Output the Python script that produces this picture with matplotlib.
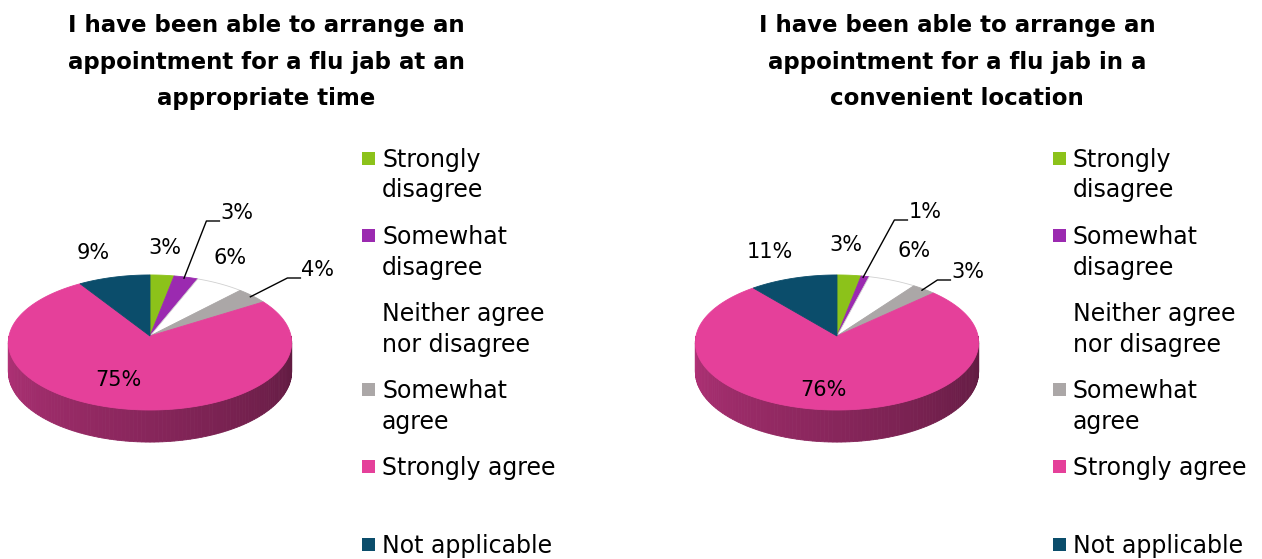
import numpy as np
import matplotlib.pyplot as plt
from matplotlib.patches import Polygon, Rectangle
import matplotlib.colors as mcolors

# Survey answers, percent of respondents
categories = ['Strongly\ndisagree', 'Somewhat\ndisagree', 'Neither agree\nnor disagree',
              'Somewhat\nagree', 'Strongly agree', 'Not applicable']
colours = ['#8cc21a', '#9b2ab0', '#ffffff', '#aba7a7', '#e5409a', '#0b4d6b']

time_pct = [3, 3, 6, 4, 75, 9]
location_pct = [3, 1, 6, 3, 76, 11]

titles = ['I have been able to arrange an\nappointment for a flu jab at an\nappropriate time',
          'I have been able to arrange an\nappointment for a flu jab in a\nconvenient location']

# layout (pixels): pie centre, title centre, legend left edge
pie_cx = [150, 837]
pie_cy = 336
title_cx = [266, 957]
legend_x = [362, 1053]

# where each percentage sits, and which ones get a leader line
label_pos = [
    [(165, 248), (237, 213), (230, 258), (318, 270), (118, 380), (93, 253)],
    [(846, 245), (925, 212), (914, 251), (968, 272), (823, 390), (770, 252)],
]
leaders = [1, 3]

RX = 141      # half width of the disc
RY = 66.9     # half height before perspective
PERSP = 0.096 # far side looks smaller
DEPTH = 29


def project(cx, theta, drop=0.0):
    # theta clockwise from 12 o'clock, in radians
    u, v = np.sin(theta), np.cos(theta)
    k = 1 + PERSP * v
    return cx + RX * u / k, pie_cy - RY * v / k + drop / k


def draw_pie(ax, cx, values):
    vals = np.array(values, dtype=float)
    bounds = np.concatenate([[0], np.cumsum(vals)]) / vals.sum() * 2 * np.pi

    # side wall, front half only, shaded left -> right
    th = np.linspace(np.pi / 2, 3 * np.pi / 2, 121)
    for a, b in zip(th[:-1], th[1:]):
        mid = (a + b) / 2
        idx = np.searchsorted(bounds, mid) - 1
        base = np.array(mcolors.to_rgb(colours[idx]))
        t = (mid - np.pi / 2) / np.pi          # 0 right, 1 left
        shade = 0.40 + 0.38 * t
        x1, y1 = project(cx, a)
        x2, y2 = project(cx, b)
        x3, y3 = project(cx, b, DEPTH)
        x4, y4 = project(cx, a, DEPTH)
        ax.add_patch(Polygon([(x1, y1), (x2, y2), (x3, y3), (x4, y4)],
                             closed=True, facecolor=base * shade,
                             edgecolor=base * shade, linewidth=0.6))

    # top face
    for i in range(len(vals)):
        arc = np.linspace(bounds[i], bounds[i + 1], max(4, int(vals[i] * 3)))
        xs, ys = project(cx, arc)
        pts = [(cx, pie_cy)] + list(zip(xs, ys))
        edge = '#d0d0d0' if colours[i] == '#ffffff' else colours[i]
        ax.add_patch(Polygon(pts, closed=True, facecolor=colours[i],
                             edgecolor=edge, linewidth=0.6))
    return bounds


fig = plt.figure(figsize=(12.62, 5.59), dpi=100)
ax = fig.add_axes([0, 0, 1, 1])
ax.set_xlim(0, 1262)
ax.set_ylim(559, 0)
ax.axis('off')

for c, values in enumerate([time_pct, location_pct]):
    bounds = draw_pie(ax, pie_cx[c], values)

    # title, one line at a time
    for j, line in enumerate(titles[c].split('\n')):
        ax.text(title_cx[c], 32 + 36.5 * j, line, ha='center', va='baseline',
                fontsize=16.5, fontweight='bold', color='black')

    # percentage labels
    for i, v in enumerate(values):
        lx, ly = label_pos[c][i]
        ax.text(lx, ly, f'{v}%', ha='center', va='center', fontsize=15)
        if i in leaders:
            mid = (bounds[i] + bounds[i + 1]) / 2
            ex, ey = project(pie_cx[c], mid)
            left = lx - 8.3 * len(f'{v}%') - 1
            ax.plot([left, left - 13, ex - 2], [ly + 8, ly + 8, ey + 1],
                    color='black', linewidth=1)

    # legend
    for i, name in enumerate(categories):
        y0 = 158 + 77.2 * i
        ax.add_patch(Rectangle((legend_x[c], y0 - 6.5), 13, 13,
                               facecolor=colours[i], edgecolor='none'))
        for j, line in enumerate(name.split('\n')):
            ax.text(legend_x[c] + 20, y0 + 8.5 + 31 * j, line, ha='left',
                    va='baseline', fontsize=17, color='black')

plt.savefig('out.png', dpi=100)
